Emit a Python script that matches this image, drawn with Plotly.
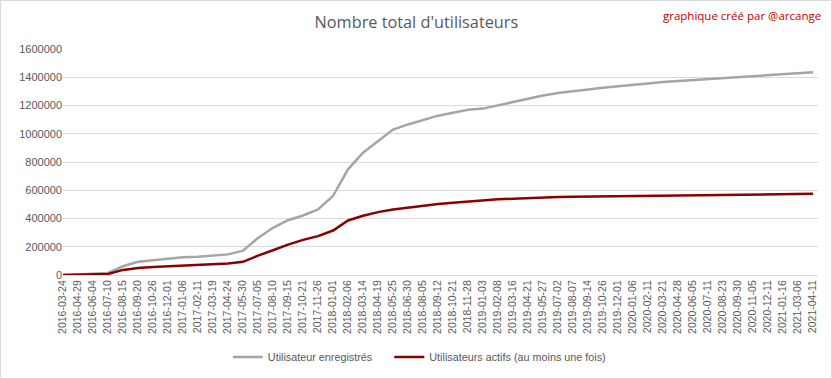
import plotly.graph_objects as go

dates = [
    "2016-03-24", "2016-04-29", "2016-06-04", "2016-07-10", "2016-08-15", "2016-09-20",
    "2016-10-26", "2016-12-01", "2017-01-06", "2017-02-11", "2017-03-19", "2017-04-24",
    "2017-05-30", "2017-07-05", "2017-08-10", "2017-09-15", "2017-10-21", "2017-11-26",
    "2018-01-01", "2018-02-06", "2018-03-14", "2018-04-19", "2018-05-25", "2018-06-30",
    "2018-08-05", "2018-09-12", "2018-10-21", "2018-11-28", "2019-01-03", "2019-02-08",
    "2019-03-16", "2019-04-21", "2019-05-27", "2019-07-02", "2019-08-07", "2019-09-14",
    "2019-10-26", "2019-12-01", "2020-01-06", "2020-02-11", "2020-03-21", "2020-04-28",
    "2020-06-05", "2020-07-11", "2020-08-23", "2020-09-30", "2020-11-05", "2020-12-11",
    "2021-01-16", "2021-03-06", "2021-04-11",
]

registered = [
    0, 3000, 9000, 15000, 62000, 94000,
    106000, 115000, 125000, 130000, 137000, 146000,
    172000, 262000, 334000, 388000, 421000, 464000,
    559000, 748000, 866000, 949000, 1030000, 1066000,
    1095000, 1128000, 1149000, 1170000, 1178000, 1201000,
    1227000, 1250000, 1271000, 1288000, 1302000, 1314000,
    1325000, 1337000, 1349000, 1356000, 1366000, 1373000,
    1380000, 1387000, 1394000, 1399000, 1403000, 1411000,
    1418000, 1427000, 1436000,
]

active = [
    0, 2000, 5000, 7000, 36000, 50000,
    57000, 62000, 67000, 74000, 76000, 81000,
    93000, 137000, 175000, 215000, 249000, 275000,
    315000, 386000, 419000, 445000, 464000, 478000,
    490000, 502000, 512000, 521000, 529000, 536000,
    540000, 545000, 548000, 552000, 554000, 555000,
    557000, 558000, 560000, 562000, 563000, 564000,
    565000, 567000, 569000, 569000, 570000, 571000,
    571000, 572000, 575000,
]

y_ticks = [0, 200000, 400000, 600000, 800000, 1000000, 1200000, 1400000, 1600000]

fig = go.Figure()
fig.add_trace(go.Scatter(
    x=dates, y=registered, mode="lines",
    name="Utilisateur enregistrés" + "\u00a0" * 4,
    line=dict(color="#a5a5a5", width=2.5),
))
fig.add_trace(go.Scatter(
    x=dates, y=active, mode="lines", name="Utilisateurs actifs (au moins une fois)",
    line=dict(color="#8b0000", width=2.5),
))

fig.update_layout(
    width=832, height=379,
    margin=dict(l=63, r=14, t=49, b=104, autoexpand=False),
    paper_bgcolor="white", plot_bgcolor="white",
    font=dict(family="Liberation Sans, Arial, sans-serif", color="#595959", size=11),
    title=dict(
        text="Nombre total d'utilisateurs",
        x=0.5005, xanchor="center", xref="container",
        y=0.94, yanchor="middle", yref="container",
        font=dict(family="Open Sans, sans-serif", size=16.3, color="#595959"),
    ),
    showlegend=True,
    legend=dict(
        orientation="h", x=0.472, xanchor="center", y=-0.363, yanchor="middle",
        font=dict(size=10.8, color="#595959"),
        bgcolor="rgba(0,0,0,0)",
    ),
    xaxis=dict(
        type="category", range=[0, 50.33], tickangle=-90, automargin=False,
        showgrid=False, showline=True, linecolor="#d9d9d9", linewidth=1,
        ticks="", tickfont=dict(size=10.5, color="#595959"),
        tickmode="array", tickvals=dates, ticktext=dates,
    ),
    yaxis=dict(
        range=[0, 1600000], tickvals=y_ticks, ticktext=[str(v) for v in y_ticks],
        showgrid=True, gridcolor="#d9d9d9", gridwidth=1, automargin=False,
        zeroline=False, showline=False, ticks="", ticklen=0,
        tickfont=dict(size=11, color="#595959"),
    ),
)

fig.add_annotation(
    text="graphique créé par @arcange", xref="paper", yref="paper",
    x=1.007, y=1.148, xanchor="right", yanchor="middle", showarrow=False,
    font=dict(family="Open Sans, sans-serif", size=11.5, color="#c00000"),
)

fig.add_shape(
    type="rect", xref="paper", yref="paper",
    x0=-62.5 / 755, x1=1 + 13.5 / 755, y0=-103.5 / 226, y1=1 + 48.5 / 226,
    line=dict(color="#d9d9d9", width=1), fillcolor="rgba(0,0,0,0)", layer="below",
)

fig.write_html(
    "out.html",
    config={"displayModeBar": False},
    post_script="document.body.style.margin='0px';document.body.style.padding='0px';",
)
